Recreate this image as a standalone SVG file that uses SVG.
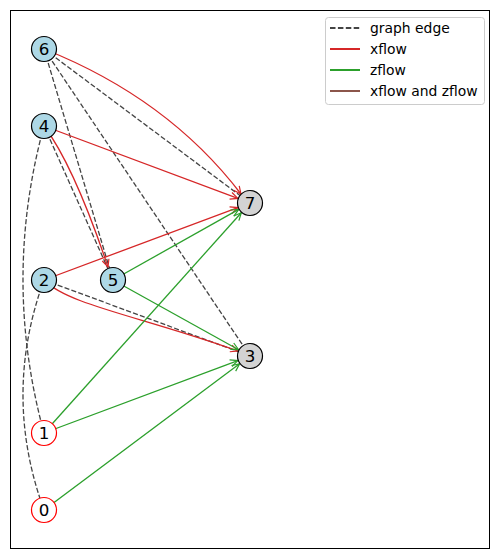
<svg xmlns="http://www.w3.org/2000/svg" width="500" height="559" viewBox="0 0 500 559">
<style>
.ge{fill:none;stroke:#444444;stroke-width:1.3;stroke-dasharray:5.1,2.2}
.xf{fill:none;stroke:#d62728;stroke-width:1.3;marker-end:url(#ar)}
.zf{fill:none;stroke:#2ca02c;stroke-width:1.3;marker-end:url(#ag)}
.nb{fill:#add8e6;stroke:#000;stroke-width:1.2}
.ng{fill:#d3d3d3;stroke:#000;stroke-width:1.2}
.nw{fill:#fff;stroke:#ff0000;stroke-width:1.2}
.lb{font-family:"DejaVu Sans",Verdana,sans-serif;font-size:16.7px;text-anchor:middle;fill:#000}
.lg{font-family:"DejaVu Sans",Verdana,sans-serif;font-size:13.9px;fill:#000}
</style>
<defs>
<marker id="ar" viewBox="-10 -6 12 12" refX="0" refY="0" markerWidth="12" markerHeight="12" markerUnits="userSpaceOnUse" orient="auto"><path d="M-7.5,-3.5 L0,0 L-7.5,3.5" fill="none" stroke="#d62728" stroke-width="1.2"/></marker>
<marker id="ag" viewBox="-10 -6 12 12" refX="0" refY="0" markerWidth="12" markerHeight="12" markerUnits="userSpaceOnUse" orient="auto"><path d="M-7.5,-3.5 L0,0 L-7.5,3.5" fill="none" stroke="#2ca02c" stroke-width="1.2"/></marker>
</defs>
<rect x="0" y="0" width="500" height="559" fill="#fff"/>
<rect x="10.5" y="10.5" width="479" height="538" fill="none" stroke="#000" stroke-width="1"/>
<g id="connectors">
<path class="ge" d="M44,49 L250,203"/>
<path class="ge" d="M44,49 L250,356"/>
<path class="ge" d="M44,49 L113,280"/>
<path class="ge" d="M44,126 L113,280"/>
<path class="ge" d="M44,126 Q2,279.5 44,433"/>
<path class="ge" d="M44,280 L250,356"/>
<path class="ge" d="M44,280 Q2,395 44,510"/>
<path class="xf" d="M44,49 Q167.8,98.2 241,194"/>
<path class="xf" d="M44,126 L237.8,198.4"/>
<path class="xf" d="M44,126 Q74,166 108,267"/>
<path class="xf" d="M44,280 L237.8,207.6"/>
<path class="xf" d="M44,280 C68,305 140,316 238,351"/>
<path class="zf" d="M113,280 L238.7,209.4"/>
<path class="zf" d="M113,280 L238.6,349.7"/>
<path class="zf" d="M44,433 L241.3,212.7"/>
<path class="zf" d="M44,433 L237.8,360.6"/>
<path class="zf" d="M44,510 L239.6,363.8"/>
</g>
<g id="node6"><circle class="nb" cx="44" cy="49" r="12.5"/><text class="lb" x="44" y="55">6</text></g>
<g id="node4"><circle class="nb" cx="44" cy="126" r="12.5"/><text class="lb" x="44" y="132">4</text></g>
<g id="node2"><circle class="nb" cx="44" cy="280" r="12.5"/><text class="lb" x="44" y="286">2</text></g>
<g id="node5"><circle class="nb" cx="113" cy="280" r="12.5"/><text class="lb" x="113" y="286">5</text></g>
<g id="node7"><circle class="ng" cx="250" cy="203" r="12.5"/><text class="lb" x="250" y="209">7</text></g>
<g id="node3"><circle class="ng" cx="250" cy="356" r="12.5"/><text class="lb" x="250" y="362">3</text></g>
<g id="node1"><circle class="nw" cx="44" cy="433" r="12.5"/><text class="lb" x="44" y="439">1</text></g>
<g id="node0"><circle class="nw" cx="44" cy="510" r="12.5"/><text class="lb" x="44" y="516">0</text></g>
<g id="legend">
<rect x="325.5" y="17.5" width="159" height="87" rx="3" fill="#fff" fill-opacity="0.8" stroke="#cccccc" stroke-width="1"/>
<line x1="330" y1="28" x2="360" y2="28" stroke="#444444" stroke-width="2" stroke-dasharray="5.5,2.4"/>
<text class="lg" x="370" y="33">graph edge</text>
<line x1="330" y1="49" x2="360" y2="49" stroke="#d62728" stroke-width="2"/>
<text class="lg" x="370" y="54">xflow</text>
<line x1="330" y1="70" x2="360" y2="70" stroke="#2ca02c" stroke-width="2"/>
<text class="lg" x="370" y="75">zflow</text>
<line x1="330" y1="91" x2="360" y2="91" stroke="#8c564b" stroke-width="2"/>
<text class="lg" x="370" y="96">xflow and zflow</text>
</g>
</svg>
